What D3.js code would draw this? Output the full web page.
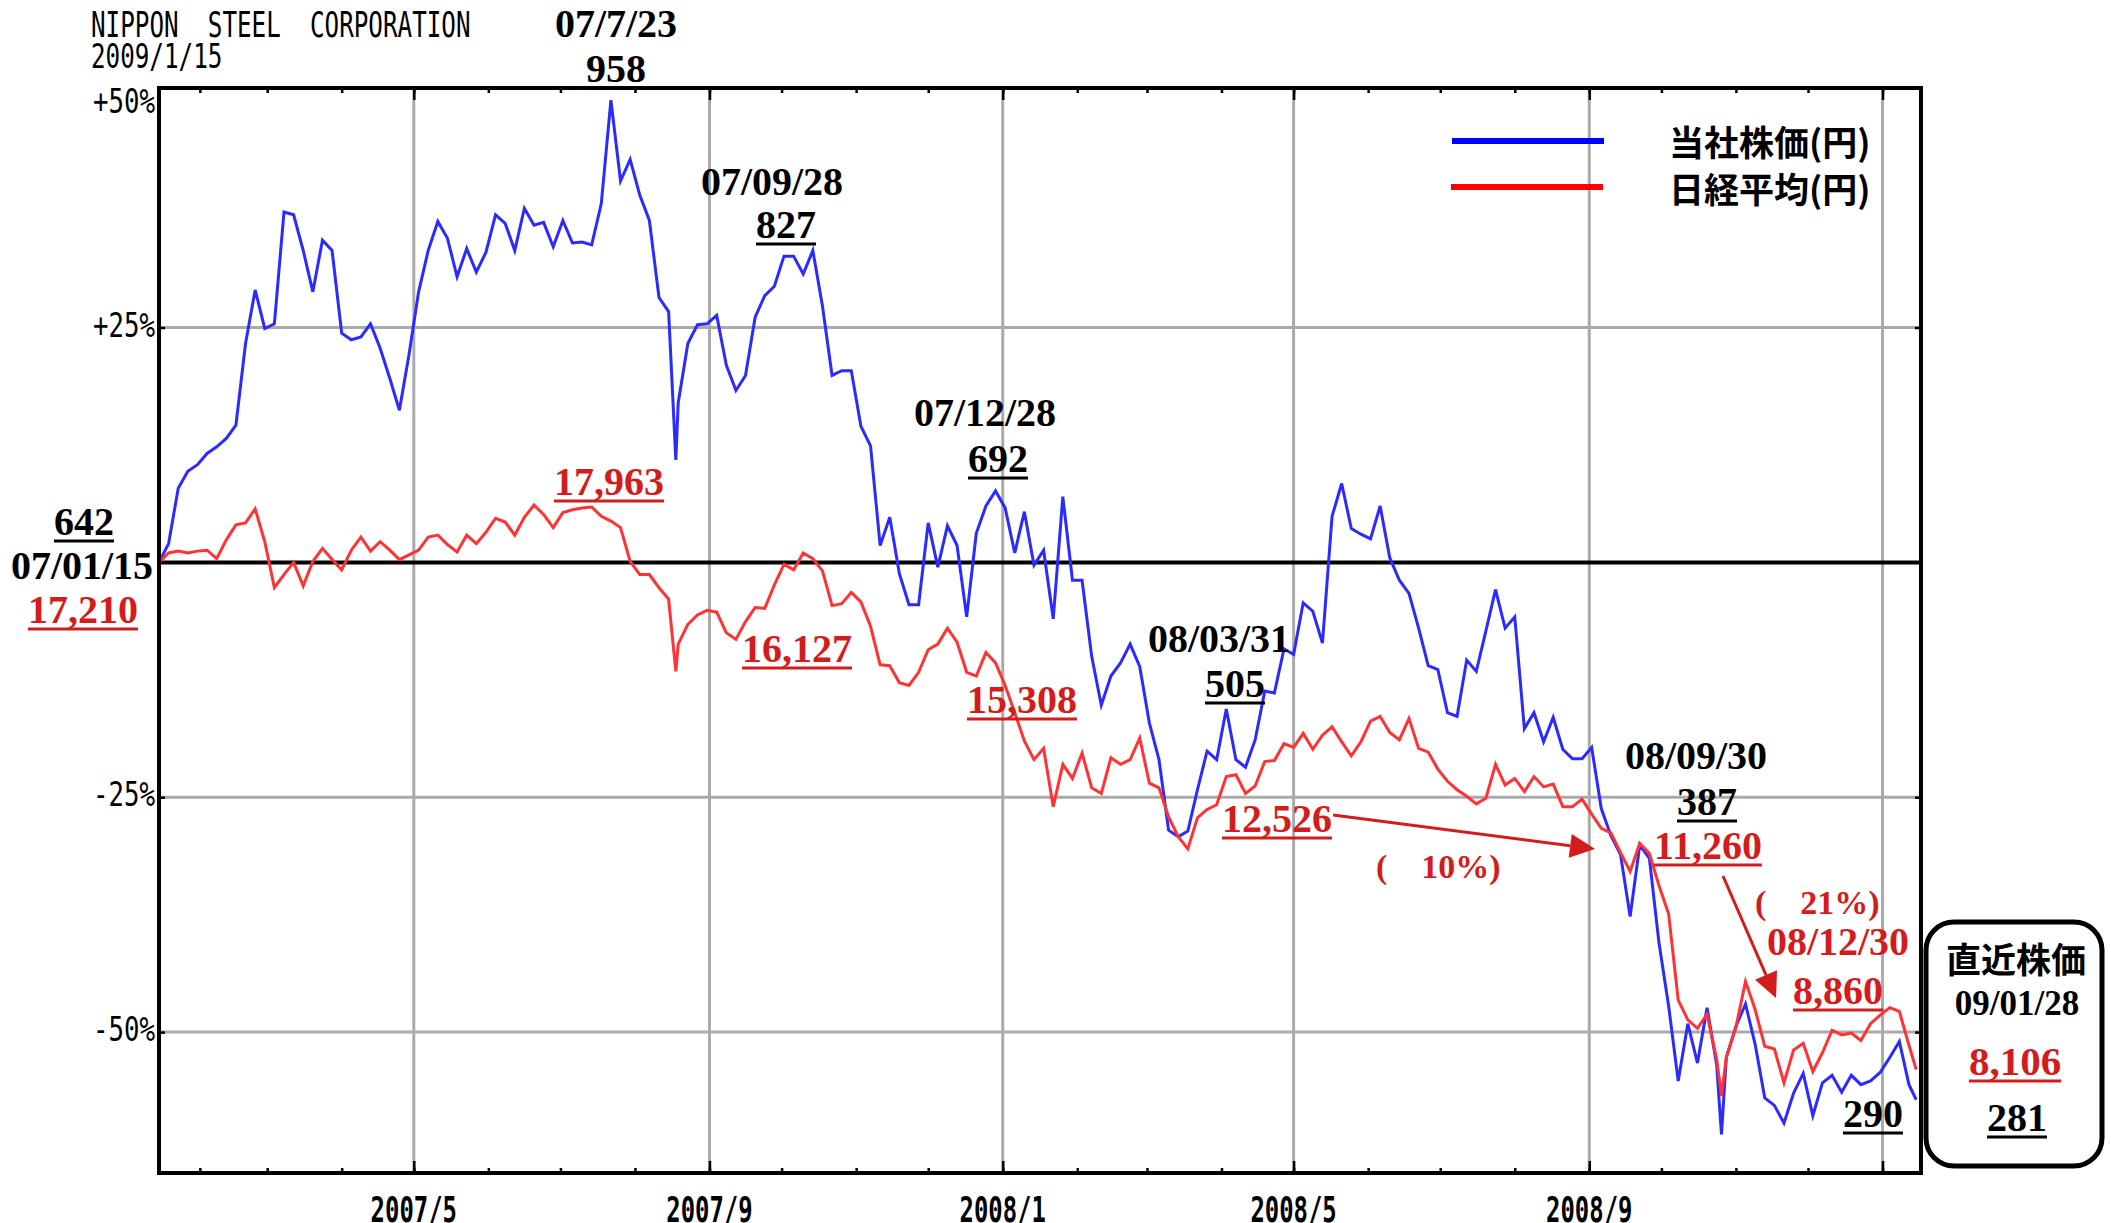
<!DOCTYPE html>
<html>
<head>
<meta charset="utf-8">
<script src="https://cdnjs.cloudflare.com/ajax/libs/d3/7.8.5/d3.min.js"></script>
<style>
  body { margin: 0; background: #fff; }
  svg { display: block; }
  .pix { font-family: 'DejaVu Sans Mono', monospace; white-space: pre; fill: #000; }
  .ann { font-family: 'Liberation Serif', 'Times New Roman', 'Noto Sans CJK JP', serif; font-weight: bold; }
  .cjk { font-family: 'Noto Sans CJK JP', sans-serif; font-weight: bold; }
</style>
</head>
<body>
<svg id="chart"></svg>
<script>
// sampled every ~4 days (plus two crash days), values in % vs 2007/01/15
const dates = [
  '2007-01-15','2007-01-19','2007-01-23','2007-01-27','2007-01-31','2007-02-04','2007-02-08','2007-02-12',
  '2007-02-16','2007-02-20','2007-02-24','2007-02-28','2007-03-04','2007-03-08','2007-03-12','2007-03-16',
  '2007-03-20','2007-03-24','2007-03-28','2007-04-01','2007-04-05','2007-04-09','2007-04-13','2007-04-17',
  '2007-04-21','2007-04-25','2007-04-29','2007-05-03','2007-05-07','2007-05-11','2007-05-15','2007-05-19',
  '2007-05-23','2007-05-27','2007-05-31','2007-06-04','2007-06-08','2007-06-12','2007-06-16','2007-06-20',
  '2007-06-24','2007-06-28','2007-07-02','2007-07-06','2007-07-10','2007-07-14','2007-07-18','2007-07-22',
  '2007-07-26','2007-07-30','2007-08-03','2007-08-07','2007-08-11','2007-08-15','2007-08-18','2007-08-19',
  '2007-08-23','2007-08-27','2007-08-31','2007-09-04','2007-09-08','2007-09-12','2007-09-16','2007-09-20',
  '2007-09-24','2007-09-28','2007-10-02','2007-10-06','2007-10-10','2007-10-14','2007-10-18','2007-10-22',
  '2007-10-26','2007-10-30','2007-11-03','2007-11-07','2007-11-11','2007-11-15','2007-11-19','2007-11-23',
  '2007-11-27','2007-12-01','2007-12-05','2007-12-09','2007-12-13','2007-12-17','2007-12-21','2007-12-25',
  '2007-12-29','2008-01-02','2008-01-06','2008-01-10','2008-01-14','2008-01-18','2008-01-22','2008-01-26',
  '2008-01-30','2008-02-03','2008-02-07','2008-02-11','2008-02-15','2008-02-19','2008-02-23','2008-02-27',
  '2008-03-02','2008-03-06','2008-03-10','2008-03-14','2008-03-18','2008-03-22','2008-03-26','2008-03-30',
  '2008-04-03','2008-04-07','2008-04-11','2008-04-15','2008-04-19','2008-04-23','2008-04-27','2008-05-01',
  '2008-05-05','2008-05-09','2008-05-13','2008-05-17','2008-05-21','2008-05-25','2008-05-29','2008-06-02',
  '2008-06-06','2008-06-10','2008-06-14','2008-06-18','2008-06-22','2008-06-26','2008-06-30','2008-07-04',
  '2008-07-08','2008-07-12','2008-07-16','2008-07-20','2008-07-24','2008-07-28','2008-08-01','2008-08-05',
  '2008-08-09','2008-08-13','2008-08-17','2008-08-21','2008-08-25','2008-08-29','2008-09-02','2008-09-06',
  '2008-09-10','2008-09-14','2008-09-18','2008-09-22','2008-09-26','2008-09-30','2008-10-04','2008-10-08',
  '2008-10-12','2008-10-16','2008-10-20','2008-10-24','2008-10-26','2008-10-28','2008-11-01','2008-11-05',
  '2008-11-09','2008-11-13','2008-11-17','2008-11-21','2008-11-25','2008-11-29','2008-12-03','2008-12-07',
  '2008-12-11','2008-12-15','2008-12-19','2008-12-23','2008-12-27','2008-12-31','2009-01-04','2009-01-08',
  '2009-01-12','2009-01-15'
];

// 当社株価 (base 642 yen)
const stockPct = [
  0, 2.0, 7.9, 9.7, 10.4, 11.6, 12.3, 13.2,
  14.6, 23.3, 29.0, 24.9, 25.4, 37.3, 37.0, 33.2,
  28.8, 34.3, 33.2, 24.4, 23.7, 24.0, 25.4, 22.8,
  19.6, 16.2, 22.1, 28.8, 33.2, 36.3, 34.5, 30.4,
  33.4, 30.9, 33.0, 37.0, 36.1, 33.2, 37.7, 35.9,
  36.2, 33.6, 36.4, 34.0, 34.1, 33.8, 38.2, 49.2,
  40.6, 42.9, 39.1, 36.4, 28.2, 26.7, 10.9, 17.0,
  23.3, 25.3, 25.4, 26.3, 21.0, 18.3, 19.9, 26.1,
  28.4, 29.4, 32.6, 32.6, 30.7, 33.2, 27.3, 19.9,
  20.4, 20.4, 14.5, 12.4, 1.8, 4.8, -1.2, -4.5,
  -4.5, 4.2, -0.5, 3.9, 1.8, -5.8, 3.1, 6.0,
  7.6, 5.8, 1.0, 5.4, -0.3, 1.3, -6.0, 7.0,
  -1.9, -1.9, -10.0, -15.2, -12.1, -10.7, -8.7, -11.1,
  -17.1, -21.0, -28.5, -29.2, -28.6, -24.2, -20.1, -21.0,
  -15.6, -21.0, -21.8, -18.9, -13.7, -13.9, -9.2, -9.8,
  -4.3, -5.2, -8.6, 4.9, 8.4, 3.6, 3.0, 2.5,
  6.0, 0.5, -1.9, -3.3, -7.0, -11.0, -11.4, -16.0,
  -16.4, -10.4, -11.6, -7.3, -2.9, -7.0, -5.8, -17.7,
  -16.0, -19.1, -16.5, -19.9, -20.9, -20.9, -19.7, -26.2,
  -29.1, -31.1, -37.7, -30.1, -31.5, -40.5, -47.2, -55.2,
  -49.1, -53.3, -47.4, -53.5, -60.9, -52.7, -49.4, -47.0,
  -51.3, -57.0, -57.8, -59.7, -56.5, -54.4, -58.9, -55.4,
  -54.6, -56.4, -54.6, -55.6, -55.2, -54.3, -52.7, -51.0,
  -55.6, -57.2
];

// 日経平均 (base 17,210 yen)
const nikkeiPct = [
  0, 1.0, 1.2, 1.0, 1.2, 1.3, 0.4, 2.4,
  4.0, 4.2, 5.7, 2.2, -2.7, -1.3, 0.0, -2.5,
  0.1, 1.5, 0.3, -0.8, 1.3, 2.7, 1.2, 2.2,
  1.3, 0.3, 0.8, 1.3, 2.7, 2.9, 1.9, 1.1,
  2.9, 2.0, 3.2, 4.7, 4.3, 2.9, 4.8, 6.1,
  5.1, 3.7, 5.3, 5.6, 5.8, 5.9, 4.9, 4.4,
  3.7, 0.1, -1.3, -1.3, -2.7, -3.9, -11.6, -8.7,
  -6.6, -5.6, -5.1, -5.3, -7.5, -8.2, -6.3, -4.8,
  -4.9, -2.4, -0.2, -0.8, 1.0, 0.4, -0.9, -4.6,
  -4.4, -3.2, -4.2, -6.8, -10.9, -11.0, -12.8, -13.1,
  -11.7, -9.3, -8.7, -7.0, -8.5, -11.7, -12.1, -9.6,
  -10.7, -13.1, -16.0, -19.0, -21.0, -19.8, -26.0, -21.5,
  -23.0, -20.3, -24.0, -24.6, -20.8, -21.5, -21.0, -18.7,
  -23.5, -24.0, -27.1, -29.2, -30.5, -27.2, -26.3, -25.8,
  -22.8, -22.6, -24.6, -23.8, -21.2, -21.1, -19.3, -19.7,
  -18.2, -19.9, -18.4, -17.5, -19.1, -20.6, -19.1, -16.9,
  -16.4, -18.1, -18.9, -16.6, -19.8, -20.2, -22.0, -23.3,
  -24.2, -24.9, -25.7, -25.1, -21.5, -23.7, -23.0, -24.4,
  -22.8, -23.9, -23.6, -26.0, -26.0, -25.2, -26.8, -28.3,
  -28.8, -30.9, -32.9, -29.9, -31.0, -34.4, -37.4, -46.6,
  -48.7, -49.6, -48.1, -52.9, -56.8, -52.7, -49.5, -44.6,
  -47.6, -51.5, -51.8, -55.4, -51.9, -51.2, -54.2, -52.2,
  -49.8, -50.3, -50.1, -50.9, -49.1, -48.2, -47.4, -47.8,
  -51.4, -54.0
];

const yTicks = [50, 25, -25, -50];
const yGrid = [25, -25, -50];
const seriesNames = ['当社株価(円)', '日経平均(円)'];
const xStart = '2007-01-15';
const xEnd = '2009-01-17';

const W = 2111, H = 1223;
const box = { left: 159, right: 1921, top: 88, bottom: 1173 };
const BLUE = '#2b2bff', RED = '#ff3333', ANN_RED = '#d41c1c', GRID = '#aaaaaa';

const parse = d3.timeParse('%Y-%m-%d');
const svg = d3.select('#chart').attr('width', W).attr('height', H);
svg.append('rect').attr('width', W).attr('height', H).attr('fill', '#fff');

const x = d3.scaleTime().domain([parse(xStart), parse(xEnd)]).range([box.left, box.right]);
const y = d3.scaleLinear().domain([-65, 50.5]).range([box.bottom, box.top]);

const gridMonths = d3.timeMonth.every(4).range(x.domain()[0], x.domain()[1]);
const allMonths = d3.timeMonth.range(x.domain()[0], x.domain()[1]);

// grid
svg.append('g').selectAll('line').data(gridMonths).join('line')
  .attr('x1', d => x(d)).attr('x2', d => x(d))
  .attr('y1', box.top).attr('y2', box.bottom)
  .attr('stroke', GRID).attr('stroke-width', 3);
svg.append('g').selectAll('line').data(yGrid).join('line')
  .attr('x1', box.left).attr('x2', box.right)
  .attr('y1', d => y(d)).attr('y2', d => y(d))
  .attr('stroke', GRID).attr('stroke-width', 3);
svg.append('line')
  .attr('x1', box.left).attr('x2', box.right)
  .attr('y1', y(0)).attr('y2', y(0))
  .attr('stroke', '#000').attr('stroke-width', 4);

// series
const rows = dates.map((d, i) => ({ date: parse(d), stock: stockPct[i], nikkei: nikkeiPct[i] }));
const lineOf = key => d3.line().x(d => x(d.date)).y(d => y(d[key]));
svg.append('path').datum(rows).attr('d', lineOf('stock'))
  .attr('fill', 'none').attr('stroke', BLUE).attr('stroke-width', 3).attr('stroke-linejoin', 'miter');
svg.append('path').datum(rows).attr('d', lineOf('nikkei'))
  .attr('fill', 'none').attr('stroke', RED).attr('stroke-width', 3).attr('stroke-linejoin', 'miter');

// frame + ticks
svg.append('rect')
  .attr('x', box.left).attr('y', box.top)
  .attr('width', box.right - box.left).attr('height', box.bottom - box.top)
  .attr('fill', 'none').attr('stroke', '#000').attr('stroke-width', 4);

function ticks(axis, transform) {
  const g = svg.append('g').attr('transform', transform).call(axis);
  g.select('.domain').remove();
  g.selectAll('.tick line').attr('stroke', '#000').attr('stroke-width', 2.5);
  g.selectAll('.tick text').remove();
}
ticks(d3.axisBottom(x).tickValues(allMonths).tickSize(-5), `translate(0,${box.bottom})`);
ticks(d3.axisBottom(x).tickValues(gridMonths).tickSize(-12), `translate(0,${box.bottom})`);
ticks(d3.axisTop(x).tickValues(allMonths).tickSize(-5), `translate(0,${box.top})`);
ticks(d3.axisTop(x).tickValues(gridMonths).tickSize(-12), `translate(0,${box.top})`);
ticks(d3.axisLeft(y).tickValues(yGrid).tickSize(-6), `translate(${box.left},0)`);
ticks(d3.axisRight(y).tickValues(yGrid).tickSize(-6), `translate(${box.right},0)`);

// pixel-font labels: narrow bitmap look, squeezed horizontally
function pixText(str, px, py, size, ch, weight) {
  const el = svg.append('text').attr('class', 'pix')
    .attr('font-size', size)
    .attr('font-weight', weight || 'normal')
    .attr('xml:space', 'preserve')
    .text(str);
  const natural = el.node().getComputedTextLength();
  const sx = (str.length * ch) / natural;
  el.attr('transform', `translate(${px},${py}) scale(${sx},1)`);
  return el;
}
pixText('NIPPON  STEEL  CORPORATION', 91, 37, 36, 14.6);
pixText('2009/1/15', 91, 68, 34, 14.6);

yTicks.forEach(v => {
  const s = (v > 0 ? '+' : '-') + Math.abs(v) + '%';
  const ch = 15.5;
  pixText(s, 155 - s.length * ch, Math.max(y(v) + 9, box.top + 25), 33, ch);
});

const fmtMonth = d3.timeFormat('%Y/%-m');
gridMonths.filter(d => d.getFullYear() < 2009).forEach(d => {
  const s = fmtMonth(d);
  const ch = 14.4;
  pixText(s, x(d) - s.length * ch / 2, 1222, 36, ch, 'bold');
});

// legend
const legend = [
  { name: seriesNames[0], color: '#0000ff', ly: 141, ty: 156, lx: 1452 },
  { name: seriesNames[1], color: '#ff0000', ly: 187, ty: 203, lx: 1451 }
];
legend.forEach(l => {
  svg.append('line').attr('x1', l.lx).attr('x2', l.lx + 152)
    .attr('y1', l.ly).attr('y2', l.ly)
    .attr('stroke', l.color).attr('stroke-width', 6);
  svg.append('text').attr('class', 'cjk').attr('x', 1669).attr('y', l.ty)
    .attr('font-size', 35).attr('fill', '#000').text(l.name);
});

// annotations
const notes = [
  { t: '07/7/23', x: 616, y: 37 },
  { t: '958', x: 616, y: 82, u: true },
  { t: '642', x: 84, y: 535, u: true },
  { t: '07/01/15', x: 82, y: 579 },
  { t: '17,210', x: 83, y: 623, u: true, red: true },
  { t: '17,963', x: 609, y: 495, u: true, red: true },
  { t: '07/09/28', x: 772, y: 195 },
  { t: '827', x: 786, y: 238, u: true },
  { t: '07/12/28', x: 985, y: 426 },
  { t: '692', x: 998, y: 472, u: true },
  { t: '16,127', x: 797, y: 662, u: true, red: true },
  { t: '15,308', x: 1022, y: 713, u: true, red: true },
  { t: '08/03/31', x: 1219, y: 652 },
  { t: '505', x: 1235, y: 697, u: true },
  { t: '12,526', x: 1277, y: 832, u: true, red: true },
  { t: '(\u300010%)', x: 1376, y: 878, red: true, size: 34, anchor: 'start' },
  { t: '08/09/30', x: 1696, y: 769 },
  { t: '387', x: 1707, y: 815, u: true },
  { t: '11,260', x: 1708, y: 859, u: true, red: true },
  { t: '(\u300021%)', x: 1755, y: 914, red: true, size: 34, anchor: 'start' },
  { t: '08/12/30', x: 1838, y: 955, red: true },
  { t: '8,860', x: 1838, y: 1004, u: true, red: true },
  { t: '290', x: 1873, y: 1127, u: true },
  { t: '09/01/28', x: 2017, y: 1015, size: 35 },
  { t: '8,106', x: 2015, y: 1075, u: true, red: true, size: 41 },
  { t: '281', x: 2017, y: 1131, u: true }
];

// latest price box
svg.append('rect')
  .attr('x', 1926).attr('y', 922).attr('width', 176).attr('height', 244)
  .attr('rx', 28).attr('ry', 28)
  .attr('fill', '#fff').attr('stroke', '#000').attr('stroke-width', 5);
svg.append('text').attr('class', 'cjk')
  .attr('x', 2016).attr('y', 973).attr('text-anchor', 'middle')
  .attr('font-size', 35).attr('fill', '#000').text('直近株価');

notes.forEach(n => {
  const color = n.red ? ANN_RED : '#000';
  const el = svg.append('text').attr('class', 'ann')
    .attr('x', n.x).attr('y', n.y)
    .attr('text-anchor', n.anchor || 'middle')
    .attr('font-size', n.size || 40)
    .attr('fill', color)
    .text(n.t);
  if (n.u) {
    const w = el.node().getComputedTextLength();
    svg.append('line')
      .attr('x1', n.x - w / 2).attr('x2', n.x + w / 2)
      .attr('y1', n.y + 6).attr('y2', n.y + 6)
      .attr('stroke', color).attr('stroke-width', 3);
  }
});

// arrows
const arrows = [
  { x1: 1333, y1: 815, x2: 1595, y2: 849 },
  { x1: 1723, y1: 876, x2: 1776, y2: 998 }
];
arrows.forEach(a => {
  const len = Math.hypot(a.x2 - a.x1, a.y2 - a.y1);
  const ux = (a.x2 - a.x1) / len, uy = (a.y2 - a.y1) / len;
  const hl = 25, hw = 12;
  const bx = a.x2 - ux * hl, by = a.y2 - uy * hl;
  svg.append('line')
    .attr('x1', a.x1).attr('y1', a.y1).attr('x2', bx).attr('y2', by)
    .attr('stroke', ANN_RED).attr('stroke-width', 3);
  svg.append('polygon')
    .attr('points', [
      [a.x2, a.y2],
      [bx - uy * hw, by + ux * hw],
      [bx + uy * hw, by - ux * hw]
    ].map(p => p.join(',')).join(' '))
    .attr('fill', ANN_RED);
});
</script>
</body>
</html>
